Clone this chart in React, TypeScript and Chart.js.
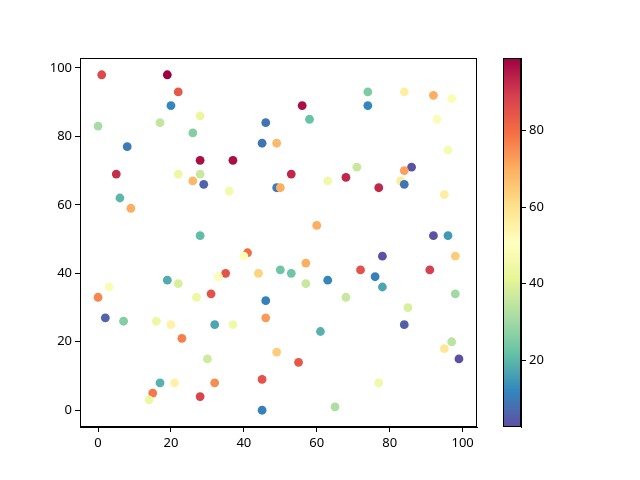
import React, { useEffect, useRef } from "react";
import { Chart, registerables } from "chart.js";

Chart.register(...registerables);

const X = [1, 19, 22, 20, 0, 17, 26, 28, 8, 28, 37, 5, 22, 28, 26, 29, 36, 6, 9, 28,
  45, 46, 49, 49, 50, 56, 58, 53, 63, 68, 71, 74, 74, 77, 84, 92, 97, 93, 96, 95,
  86, 84, 83, 84, 60, 92, 96, 41, 40, 35, 33, 44, 50, 19, 22, 3, 0, 27, 31, 46,
  2, 7, 16, 20, 32, 37, 46, 23, 49, 30, 17, 21, 32, 45, 15, 14, 28, 45, 78, 98,
  57, 53, 72, 91, 63, 76, 78, 57, 68, 98, 85, 84, 61, 97, 95, 99, 55, 77, 65];
const Y = [98, 98, 93, 89, 83, 84, 81, 86, 77, 73, 73, 69, 69, 69, 67, 66, 64, 62, 59, 51,
  78, 84, 78, 65, 65, 89, 85, 69, 67, 68, 71, 93, 89, 65, 93, 92, 91, 85, 76, 63,
  71, 70, 67, 66, 54, 51, 51, 46, 45, 40, 39, 40, 41, 38, 37, 36, 33, 33, 34, 32,
  27, 26, 26, 25, 25, 25, 27, 21, 17, 15, 8, 8, 8, 9, 5, 3, 4, 0, 45, 45,
  43, 40, 41, 41, 38, 39, 36, 37, 33, 34, 30, 25, 23, 20, 18, 15, 14, 8, 1];
const C = [87, 99, 84, 12, 31, 35, 26, 43, 10, 97, 97, 92, 44, 36, 68, 6, 46, 20, 70, 21,
  9, 9, 68, 10, 70, 97, 22, 93, 45, 93, 36, 25, 12, 93, 56, 70, 49, 49, 47, 56,
  3, 72, 57, 9, 70, 3, 15, 80, 50, 85, 52, 63, 23, 18, 39, 48, 76, 44, 85, 11,
  6, 26, 44, 55, 17, 45, 73, 77, 64, 37, 19, 55, 75, 85, 78, 44, 88, 11, 3, 64,
  70, 23, 85, 89, 12, 11, 17, 36, 36, 30, 39, 5, 19, 34, 58, 2.5, 84, 45, 32];

const X_TICKS = [0, 20, 40, 60, 80, 100];
const Y_TICKS = [0, 20, 40, 60, 80, 100];
const CB_TICKS = [20, 40, 60, 80];

const SPECTRAL_R = [
  [94, 79, 162], [50, 136, 189], [102, 194, 165], [171, 221, 164], [230, 245, 152],
  [255, 255, 191], [254, 224, 139], [253, 174, 97], [244, 109, 67], [213, 62, 79], [158, 1, 66],
];

function cmap(t: number): string {
  const tt = Math.max(0, Math.min(1, t)) * (SPECTRAL_R.length - 1);
  const i = Math.min(SPECTRAL_R.length - 2, Math.floor(tt));
  const f = tt - i;
  const a = SPECTRAL_R[i], b = SPECTRAL_R[i + 1];
  const c = a.map((v, k) => Math.round(v + (b[k] - v) * f));
  return `rgb(${c[0]},${c[1]},${c[2]})`;
}

const FONT = { family: "'Noto Sans', 'DejaVu Sans', sans-serif", size: 13 };

const frame = {
  id: "frame",
  afterDraw(chart: any) {
    const a = chart.chartArea;
    const ctx = chart.ctx;
    ctx.save();
    ctx.strokeStyle = "#000";
    ctx.lineWidth = 1;
    ctx.strokeRect(Math.round(a.left) + 0.5, Math.round(a.top) + 0.5, Math.round(a.right - a.left) - 1, Math.round(a.bottom - a.top) - 1);
    ctx.restore();
  },
};

export default function App() {
  const mainRef = useRef<HTMLCanvasElement>(null);
  const cbRef = useRef<HTMLCanvasElement>(null);

  useEffect(() => {
    const cmin = Math.min(...C);
    const cmax = Math.max(...C);
    const xmin = Math.min(...X), xmax = Math.max(...X);
    const ymin = Math.min(...Y), ymax = Math.max(...Y);
    const xm = (xmax - xmin) * 0.05, ym = (ymax - ymin) * 0.05;

    const axisCommon = (ticks: number[]) => ({
      type: "linear" as const,
      afterBuildTicks: (s: any) => { s.ticks = ticks.map((v) => ({ value: v })); },
      grid: { display: true, drawOnChartArea: false, tickLength: 5, color: "#000", lineWidth: 1 },
      border: { display: true, color: "#000", width: 1 },
      ticks: { color: "#000", font: FONT, padding: 3, maxRotation: 0 },
    });

    const main = new Chart(mainRef.current!, {
      type: "scatter",
      data: {
        datasets: [{
          data: X.map((x, i) => ({ x, y: Y[i] })),
          backgroundColor: C.map((c) => cmap((c - cmin) / (cmax - cmin))),
          borderWidth: 0,
          pointRadius: 4.4,
          pointHoverRadius: 4.4,
        }],
      },
      options: {
        responsive: false,
        animation: false,
        layout: { padding: { left: 0, top: 58, right: 163, bottom: 0 } },
        plugins: { legend: { display: false }, tooltip: { enabled: false } },
        scales: {
          x: { ...axisCommon(X_TICKS), min: xmin - xm, max: xmax + xm, afterFit: (s: any) => { s.height = 53; } },
          y: { ...axisCommon(Y_TICKS), min: ymin - ym, max: ymax + ym, afterFit: (s: any) => { s.width = 80; } },
        },
      },
      plugins: [frame],
    });

    const cb = new Chart(cbRef.current!, {
      type: "bar",
      data: {
        labels: [""],
        datasets: [{
          data: [[cmin, cmax]] as any,
          backgroundColor: (ctx: any) => {
            const a = ctx.chart.chartArea;
            if (!a) return "#ccc";
            const g = ctx.chart.ctx.createLinearGradient(0, a.bottom, 0, a.top);
            for (let i = 0; i <= 40; i++) g.addColorStop(i / 40, cmap(i / 40));
            return g;
          },
          borderColor: "#000",
          borderWidth: 0,
          barPercentage: 1,
          categoryPercentage: 1,
        }],
      },
      options: {
        responsive: false,
        animation: false,
        layout: { padding: { left: 13, top: 58, right: 0, bottom: 53 } },
        plugins: { legend: { display: false }, tooltip: { enabled: false } },
        scales: {
          x: { display: false },
          y: {
            ...axisCommon(CB_TICKS), position: "right", min: cmin, max: cmax,
            afterFit: (s: any) => { s.width = 110 - 31; },
          },
        },
      },
      plugins: [frame],
    });

    return () => { main.destroy(); cb.destroy(); };
  }, []);

  return (
    <div style={{ position: "absolute", left: 0, top: 0, width: 640, height: 480, background: "#fff" }}>
      <canvas ref={mainRef} width={640} height={480} style={{ position: "absolute", left: 0, top: 0, width: 640, height: 480 }} />
      <canvas ref={cbRef} width={110} height={480} style={{ position: "absolute", left: 490, top: 0, width: 110, height: 480 }} />
    </div>
  );
}
